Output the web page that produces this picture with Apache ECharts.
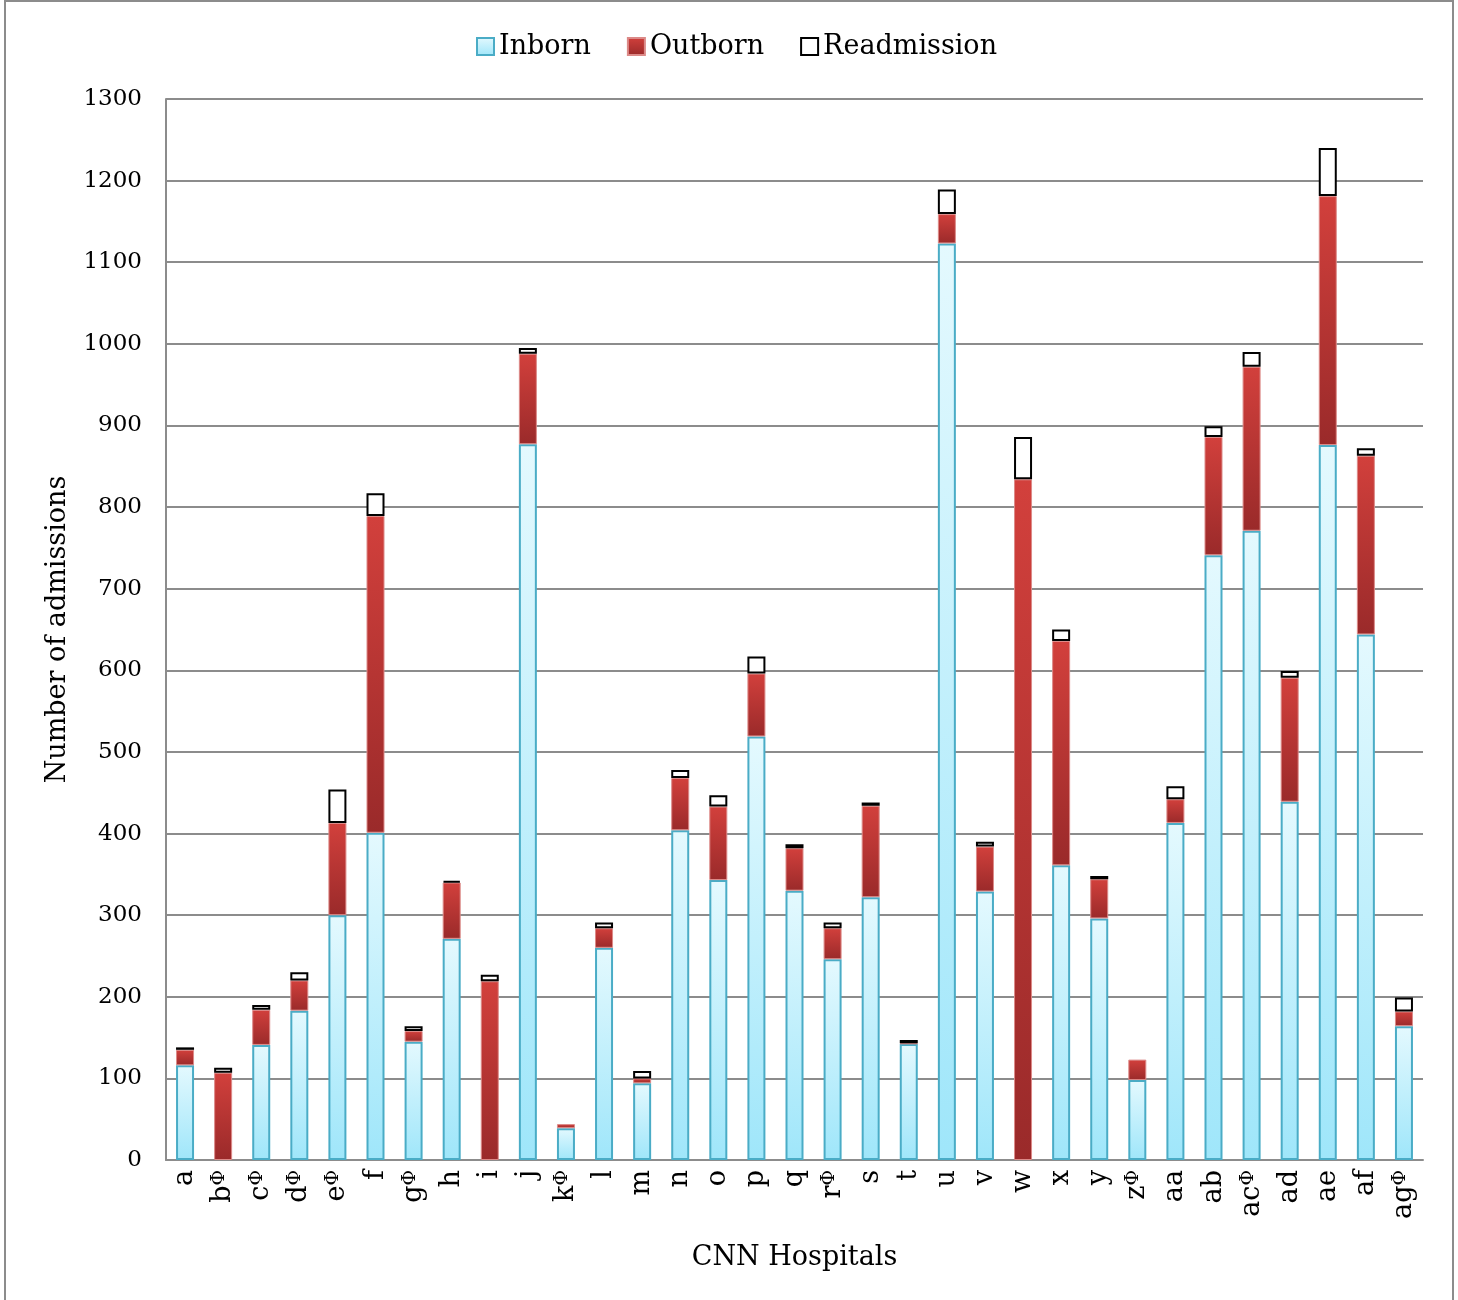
<!DOCTYPE html>
<html><head><meta charset="utf-8">
<script src="https://cdn.jsdelivr.net/npm/echarts@6/dist/echarts.min.js"></script>
<style>html,body{margin:0;padding:0;background:#fff}#c{width:1458px;height:1300px}</style>
</head><body><div id="c"></div>
<script>
const hospitals = ['a','bΦ','cΦ','dΦ','eΦ','f','gΦ','h','i','j','kΦ','l','m','n','o','p','q','rΦ','s','t','u','v','w','x','y','zΦ','aa','ab','acΦ','ad','ae','af','agΦ'];
const inborn = [116,0,141,183,300,401,145,271,0,877,39,260,94,404,343,519,330,246,322,142,1123,329,0,361,296,98,413,741,771,439,876,644,164];
const outborn = [19,107,43,37,113,388,13,69,219,111,5,24,6,64,90,77,52,38,112,1,36,55,834,275,48,25,29,145,201,152,305,219,18];
const readmission = [3,6,6,10,41,28,6,2,8,7,0,7,9,10,14,21,5,7,4,4,30,6,52,14,4,0,16,13,18,8,59,9,17];
const yTicks = {min:0, max:1300, interval:100};

const FONT = 'DejaVu Serif';
const nz = arr => arr.map(v => v === 0 ? '-' : v);
const chart = echarts.init(document.getElementById('c'), null, {renderer:'canvas'});
const inbornColor = new echarts.graphic.LinearGradient(0,0,0,1,[{offset:0,color:'#e4f9fe'},{offset:1,color:'#9fe6fa'}]);
const outbornColor = new echarts.graphic.LinearGradient(0,0,0,1,[{offset:0,color:'#d2403c'},{offset:1,color:'#9a2a2a'}]);
chart.setOption({
  animation:false,
  backgroundColor:'#fff',
  graphic:[{type:'rect',shape:{x:5,y:1,width:1448,height:1310},style:{fill:'none',stroke:'#8c8c8c',lineWidth:2},silent:true}],
  legend:{top:28,left:471,icon:'rect',itemWidth:17,itemHeight:17,itemGap:36,
    textStyle:{fontFamily:FONT,fontSize:27,color:'#000'},
    data:['Inborn','Outborn','Readmission']},
  grid:{left:166,right:35,top:99,bottom:140,containLabel:false},
  xAxis:{type:'category',data:hospitals,
    axisLine:{lineStyle:{color:'#8c8c8c',width:2}},axisTick:{show:false},
    axisLabel:{rotate:90,interval:0,margin:10,color:'#000',fontFamily:FONT,fontSize:27,
      formatter:v=>v.endsWith('Φ')?v.slice(0,-1)+'{s|Φ}':v,
      rich:{s:{fontFamily:FONT,fontSize:19,verticalAlign:'top',color:'#000'}}},
    name:'CNN Hospitals',nameLocation:'middle',nameGap:84,
    nameTextStyle:{fontFamily:FONT,fontSize:27,color:'#000'}},
  yAxis:{type:'value',min:yTicks.min,max:yTicks.max,interval:yTicks.interval,
    axisLine:{show:true,lineStyle:{color:'#8c8c8c',width:2}},axisTick:{show:false},
    splitLine:{lineStyle:{color:'#8c8c8c',width:2}},
    axisLabel:{color:'#000',fontFamily:FONT,fontSize:23,margin:24,formatter:v=>String(v)},
    name:'Number of admissions',nameLocation:'middle',nameGap:95,
    nameTextStyle:{fontFamily:FONT,fontSize:27,color:'#000'}},
  series:[
    {name:'Inborn',type:'bar',stack:'t',barWidth:18,data:nz(inborn),
      itemStyle:{color:inbornColor,borderColor:'#4aacc6',borderWidth:2}},
    {name:'Outborn',type:'bar',stack:'t',barWidth:18,data:nz(outborn),
      itemStyle:{color:outbornColor,borderColor:'#dc8a88',borderWidth:1}},
    {name:'Readmission',type:'bar',stack:'t',barWidth:18,data:nz(readmission),
      itemStyle:{color:'#fff',borderColor:'#000',borderWidth:2}}
  ]
});
</script></body></html>
